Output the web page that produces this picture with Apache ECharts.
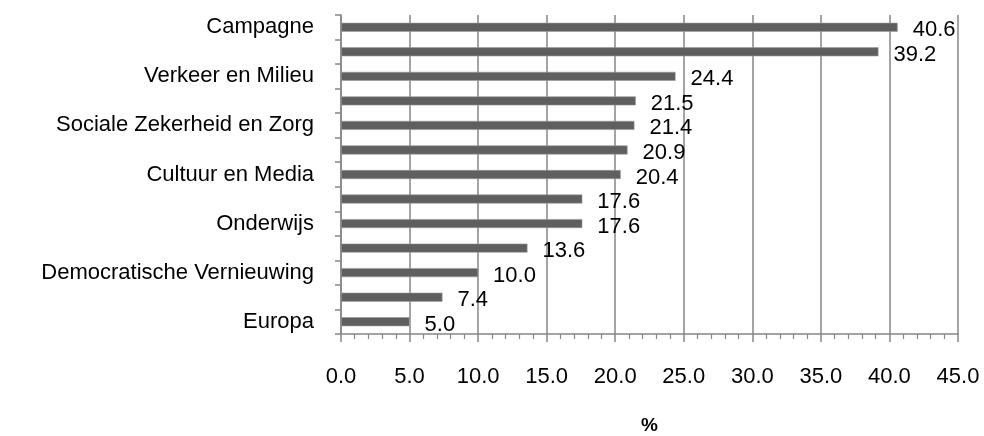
<!DOCTYPE html>
<html><head><meta charset="utf-8">
<script src="https://cdn.jsdelivr.net/npm/echarts@6/dist/echarts.min.js"></script>
<style>html,body{margin:0;padding:0;background:#fff}#c{width:984px;height:436px}</style>
</head><body><div id="c"></div>
<script>
const categories = ["Campagne", "", "Verkeer en Milieu", "", "Sociale Zekerheid en Zorg", "", "Cultuur en Media", "", "Onderwijs", "", "Democratische Vernieuwing", "", "Europa"];
const values = [40.6, 39.2, 24.4, 21.5, 21.4, 20.9, 20.4, 17.6, 17.6, 13.6, 10.0, 7.4, 5.0];
const xTicks = [0, 5, 10, 15, 20, 25, 30, 35, 40, 45];
const axisName = "%";
const font = "'Liberation Sans', 'DejaVu Sans', sans-serif";
const chart = echarts.init(document.getElementById('c'));
chart.setOption({
  animation: false,
  grid: {left: 341, right: 26, top: 15, bottom: 102, containLabel: false, outerBoundsMode: 'none'},
  xAxis: {
    type: 'value', min: xTicks[0], max: xTicks[xTicks.length - 1], interval: 5,
    name: axisName, nameLocation: 'middle', nameGap: 82,
    nameTextStyle: {fontFamily: font, fontSize: 19, fontWeight: 'bold', color: '#000'},
    axisLine: {show: true, lineStyle: {color: '#868686', width: 1.5}},
    axisTick: {show: true, length: 8, lineStyle: {color: '#868686', width: 1.5}},
    minorTick: {show: true, splitNumber: 5, length: 5, lineStyle: {color: '#868686', width: 1.2}},
    splitLine: {show: true, lineStyle: {color: '#868686', width: 1.5}},
    axisLabel: {fontFamily: font, fontSize: 22, color: '#000', margin: 32, formatter: v => v.toFixed(1)}
  },
  yAxis: {
    type: 'category', data: categories, inverse: true,
    axisLine: {show: true, lineStyle: {color: '#868686', width: 1.5}},
    axisTick: {show: true, interval: 0, length: 6, lineStyle: {color: '#868686', width: 1.5}},
    axisLabel: {fontFamily: font, fontSize: 22, color: '#000', margin: 27, interval: 0}
  },
  series: [{
    type: 'bar', data: values, barWidth: 9,
    itemStyle: {color: '#5f5f5f', borderColor: '#9a9a9a', borderWidth: 0.6},
    label: {show: true, position: 'right', distance: 15, offset: [0, 3],
      fontFamily: font, fontSize: 22, color: '#000', formatter: p => p.value.toFixed(1)}
  }]
});
</script></body></html>
